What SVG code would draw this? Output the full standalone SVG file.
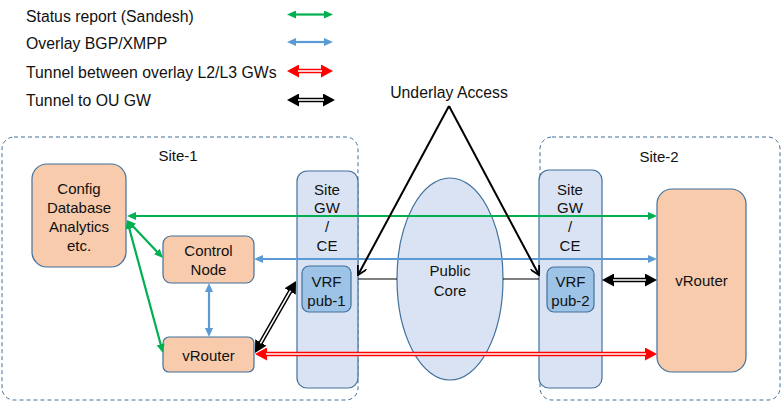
<svg xmlns="http://www.w3.org/2000/svg" width="781" height="402" viewBox="0 0 781 402">
<style>
text{font-family:"Liberation Sans",Arial,sans-serif;fill:#111;}
.lg{font-size:15.8px;}
.t{font-size:15px;text-anchor:middle;}
.site{fill:none;stroke:#41719c;stroke-width:1;stroke-dasharray:4,3;}
.org{fill:#f8cbad;stroke:#41719c;stroke-width:1.2;}
.gw{fill:#dae3f3;stroke:#41719c;stroke-width:1.2;}
.vrf{fill:#9dc3e6;stroke:#41719c;stroke-width:1.2;}
.g{stroke:#00b050;stroke-width:2.2;fill:none;marker-start:url(#ag);marker-end:url(#ag);}
.b{stroke:#5b9bd5;stroke-width:2.2;fill:none;marker-start:url(#ab);marker-end:url(#ab);}
.r{stroke:#ff0000;stroke-width:4.5;fill:none;marker-start:url(#ar);marker-end:url(#ar);}
.k{stroke:#000;stroke-width:4.5;fill:none;marker-start:url(#ak);marker-end:url(#ak);}
.w{stroke:#fff;stroke-width:1.6;fill:none;}
.u{stroke:#000;stroke-width:2;fill:none;marker-end:url(#ao);}
.thin{stroke:#000;stroke-width:1;fill:none;}
</style>
<defs>
<marker id="ag" viewBox="0 0 9 8" refX="1" refY="4" markerWidth="9" markerHeight="8" markerUnits="userSpaceOnUse" orient="auto-start-reverse"><path d="M0,0 L9,4 L0,8 z" fill="#00b050"/></marker>
<marker id="ab" viewBox="0 0 9 8" refX="1" refY="4" markerWidth="9" markerHeight="8" markerUnits="userSpaceOnUse" orient="auto-start-reverse"><path d="M0,0 L9,4 L0,8 z" fill="#5b9bd5"/></marker>
<marker id="ar" viewBox="0 0 12 13" refX="1" refY="6.5" markerWidth="12" markerHeight="13" markerUnits="userSpaceOnUse" orient="auto-start-reverse"><path d="M0,0 L12,6.5 L0,13 z" fill="#ff0000"/></marker>
<marker id="ak" viewBox="0 0 12 13" refX="1" refY="6.5" markerWidth="12" markerHeight="13" markerUnits="userSpaceOnUse" orient="auto-start-reverse"><path d="M0,0 L12,6.5 L0,13 z" fill="#000"/></marker>
<marker id="ao" viewBox="0 0 10 10" refX="9" refY="5" markerWidth="10" markerHeight="10" markerUnits="userSpaceOnUse" orient="auto"><path d="M0,0 L9,5 L0,10" fill="none" stroke="#000" stroke-width="1.8"/></marker>
</defs>

<g id="legend">
<text class="lg" x="26" y="21.5">Status report (Sandesh)</text>
<text class="lg" x="26" y="48.5">Overlay BGP/XMPP</text>
<text class="lg" x="26" y="77.5">Tunnel between overlay L2/L3 GWs</text>
<text class="lg" x="26" y="105.5">Tunnel to OU GW</text>
<path class="g" d="M295,14.5 H325"/>
<path class="b" d="M295,42 H325"/>
<path class="r" d="M298,71 H322"/>
<path class="w" d="M298,71 H322"/>
<path class="k" d="M298,100 H324"/>
<path class="w" d="M298,100 H324"/>
</g>

<g id="site-1">
<rect class="site" x="2" y="137" width="356" height="263" rx="12"/>
<text class="t" x="178" y="161">Site-1</text>
</g>
<g id="site-2">
<rect class="site" x="540" y="137" width="240" height="263" rx="12"/>
<text class="t" x="659" y="162">Site-2</text>
</g>

<g id="config">
<rect class="org" x="32" y="164" width="94" height="103" rx="15"/>
<text class="t" x="79" y="193.5">Config</text>
<text class="t" x="79" y="212.5">Database</text>
<text class="t" x="79" y="231.5">Analytics</text>
<text class="t" x="79" y="250.5">etc.</text>
</g>
<g id="control-node">
<rect class="org" x="163" y="236" width="91" height="47" rx="8"/>
<text class="t" x="208.5" y="256">Control</text>
<text class="t" x="208.5" y="275">Node</text>
</g>
<g id="vrouter-1">
<rect class="org" x="163" y="337" width="91" height="35" rx="6"/>
<text class="t" x="208.5" y="360.5">vRouter</text>
</g>
<g id="site-gw-1">
<rect class="gw" x="297" y="171" width="61" height="217" rx="10"/>
<text class="t" x="327" y="194.5">Site</text>
<text class="t" x="327" y="213">GW</text>
<text class="t" x="327" y="232">/</text>
<text class="t" x="327" y="251">CE</text>
</g>
<g id="vrf-pub-1">
<rect class="vrf" x="302" y="266" width="49" height="46" rx="7"/>
<text class="t" x="326.5" y="286.5">VRF</text>
<text class="t" x="326.5" y="305.5">pub-1</text>
</g>
<g id="public-core">
<ellipse class="gw" cx="450" cy="279" rx="53" ry="101"/>
<text class="t" x="450" y="276">Public</text>
<text class="t" x="450" y="295.5">Core</text>
</g>
<g id="site-gw-2">
<rect class="gw" x="539" y="170" width="63" height="218" rx="10"/>
<text class="t" x="570" y="194.5">Site</text>
<text class="t" x="570" y="213">GW</text>
<text class="t" x="570" y="232">/</text>
<text class="t" x="570" y="251">CE</text>
</g>
<g id="vrf-pub-2">
<rect class="vrf" x="547" y="267" width="47" height="45" rx="7"/>
<text class="t" x="570.5" y="287">VRF</text>
<text class="t" x="570.5" y="306">pub-2</text>
</g>
<g id="vrouter-2">
<rect class="org" x="657" y="189" width="89" height="183" rx="15"/>
<text class="t" x="701.5" y="286">vRouter</text>
</g>
<g id="underlay-access">
<text class="lg" x="449" y="97.5" text-anchor="middle">Underlay Access</text>
</g>

<g id="connectors">
<path class="g" d="M135,216 H649"/>
<path class="g" d="M132.5,225.8 L157.5,252.2"/>
<path class="g" d="M129.1,227.7 L160.9,345.3"/>
<path class="b" d="M262,259 H649"/>
<path class="b" d="M209,291 V329"/>
<path class="r" d="M266,354 H646"/>
<path class="w" d="M266,354 H646"/>
<path class="k" d="M260.4,343.4 L290.6,290.6"/>
<path class="w" d="M260.4,343.4 L290.6,290.6"/>
<path class="k" d="M613,280 H646"/>
<path class="w" d="M613,280 H646"/>
<path class="u" d="M449,106 L358,275"/>
<path class="u" d="M449,106 L539,275"/>
<path class="thin" d="M358,279 H397"/>
<path class="thin" d="M503,279 H539"/>
</g>
</svg>
